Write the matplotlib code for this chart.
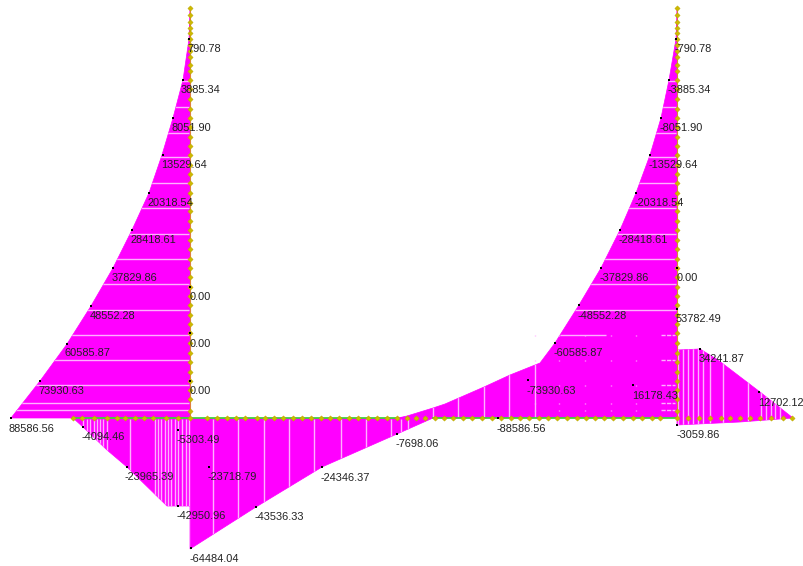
import matplotlib
matplotlib.use("Agg")
import matplotlib.pyplot as plt
from matplotlib.patches import Polygon

plt.rcParams['font.family'] = ['Liberation Sans', 'DejaVu Sans']

MAGENTA = "#ff00ff"
LINE = "#ffb0ff"

# outlines in pixels
left_wall = [(190, 8), (189, 39), (183, 80), (173, 118), (162, 155), (149, 193), (132, 230),
             (113, 268), (91, 306), (67, 344), (40, 381), (11, 418), (190, 418)]
lower_part = [(73, 418), (83, 427), (107, 450), (127, 467), (167, 506), (190, 506), (190, 549),
              (256, 507), (322, 467), (397, 434), (433, 418), (398, 418)]
right_wall = [(398, 418), (407, 416), (433, 408), (445, 404), (484, 387), (510, 375), (540, 363),
              (555, 343), (579, 305), (601, 268), (620, 230), (636, 193), (650, 155), (661, 118),
              (669, 80), (676, 39), (677, 8), (677, 418)]
right_tail = [(677, 350), (700, 349), (718, 360), (760, 392), (793, 418), (740, 422), (677, 425)]

# white divisions of the fill
left_rows = [81, 107, 133, 157, 183, 208, 234, 259, 284, 310, 335, 360, 385, 403, 410]
right_rows = [81, 107, 133, 157, 183, 208, 234, 259, 284, 310]
right_row_335 = [(560, 606)]
dash_rows = [335, 360, 385, 403, 410]
dash_columns = [535, 559, 585, 611, 636]
lower_columns = [83, 87, 90, 94, 97, 100, 103, 107, 130, 155, 158, 161, 165, 168, 171, 175, 178,
                 182, 186, 189, 213, 238, 264, 289, 314, 341, 366, 391, 401, 408]
upper_columns = [433, 458, 484, 509, 535]
tail_columns = [678, 683, 688, 693, 698, 703, 710, 723, 748, 761, 766, 771, 775, 780]

# yellow nodes
wall_nodes = [8, 15, 22, 28, 33, 39, 45, 51, 57, 65, 71, 80, 89, 99, 109, 118, 127, 137, 146, 155,
              165, 174, 183, 193, 203, 211, 221, 230, 240, 249, 259, 268, 277, 287, 296, 305, 315,
              324, 333, 343, 353, 362, 372, 381, 390, 399, 411]
base_nodes = [73, 82, 94, 107, 117, 125, 135, 144, 153, 166, 178, 190, 207, 217, 227, 236, 245, 257,
              265, 274, 283, 293, 302, 311, 321, 330, 339, 349, 358, 368, 377, 387, 397, 407, 416,
              425, 435, 444, 453, 463, 472, 482, 492, 501, 511, 520, 529, 539, 548, 557, 567, 577,
              586, 595, 604, 613, 623, 633, 642, 652, 660, 677, 688, 699, 710, 721, 730, 740, 750,
              760, 771, 783, 792]

# black result points
mark_x = [189, 183, 173, 163, 149, 132, 113, 91, 67, 40, 11, 190, 190, 190, 83, 127, 178, 178, 209,
          256, 191, 322, 397, 498, 676, 669, 661, 650, 636, 620, 601, 579, 555, 528, 677, 677, 633,
          700, 759, 677]
mark_y = [39, 80, 118, 155, 193, 230, 268, 306, 344, 381, 418, 287, 333, 381, 427, 467, 506, 430,
          467, 507, 548, 467, 434, 418, 39, 80, 118, 155, 193, 230, 268, 305, 343, 380, 268, 309,
          385, 349, 392, 425]

# labels
label_text = ["790.78", "3885.34", "8051.90", "13529.64", "20318.54", "28418.61", "37829.86",
              "48552.28", "60585.87", "73930.63", "88586.56", "0.00", "0.00", "0.00",
              "-4094.46", "-23965.39", "-5303.49", "-23718.79", "-42950.96", "-43536.33",
              "-64484.04", "-24346.37", "-7698.06", "-88586.56",
              "-790.78", "-3885.34", "-8051.90", "-13529.64", "-20318.54", "-28418.61",
              "-37829.86", "0.00", "-48552.28", "53782.49", "-60585.87", "34241.87",
              "-73930.63", "16178.43", "12702.12", "-3059.86"]
label_x = [187, 181, 172, 161, 148, 131, 112, 90, 65, 38, 9, 190, 190, 190,
           82, 125, 177, 208, 177, 255, 190, 321, 396, 497,
           675, 668, 660, 649, 635, 619, 600, 677, 578, 676, 554, 699, 527, 632, 758, 677]
label_y = [49, 90, 128, 165, 203, 240, 278, 316, 353, 391, 429, 297, 344, 391,
           437, 477, 440, 477, 516, 517, 559, 478, 444, 429,
           49, 90, 128, 165, 203, 240, 278, 278, 316, 319, 353, 359, 391, 396, 403, 435]

fig = plt.figure(figsize=(8.04, 5.66), dpi=100)
ax = fig.add_axes([0, 0, 1, 1])
ax.set_xlim(0, 804)
ax.set_ylim(566, 0)
ax.axis("off")

patches = {}
for name, outline in [("left", left_wall), ("lower", lower_part), ("right", right_wall), ("tail", right_tail)]:
    patches[name] = Polygon(outline, closed=True, fc=MAGENTA, ec=MAGENTA, lw=0.5, zorder=1)
    ax.add_patch(patches[name])

# division lines, cut off at the outlines
ax.hlines(left_rows, 0, 189, color=LINE, lw=1, zorder=2).set_clip_path(patches["left"])
ax.hlines(right_rows, 480, 676, color=LINE, lw=1, zorder=2).set_clip_path(patches["right"])
for x0, x1 in right_row_335:
    ax.hlines(dash_rows[0], x0, x1, color=LINE, lw=1, zorder=2)
for x in dash_columns:
    ax.vlines([x] * len(dash_rows), [r - 0.5 for r in dash_rows], [r + 0.5 for r in dash_rows],
              color=LINE, lw=1, zorder=2)
ax.hlines(dash_rows, 661, 675, color=LINE, lw=1, linestyles=(0, (3, 1)), zorder=2)
ax.vlines(lower_columns, 419, 560, color=LINE, lw=1, zorder=2).set_clip_path(patches["lower"])
ax.vlines(upper_columns, 340, 417, color=LINE, lw=1, zorder=2).set_clip_path(patches["right"])
ax.vlines(tail_columns, 340, 430, color=LINE, lw=1, zorder=2).set_clip_path(patches["tail"])

# member lines and nodes
ax.plot([73, 398], [418, 418], color="#30e030", lw=1.2, zorder=3)
ax.plot([433, 677], [418, 418], color="#30e030", lw=1.2, zorder=3)
for wall_x in (190, 677):
    ax.plot([wall_x, wall_x], [8, 418], color="#e08040", lw=0.8, zorder=3)
    ax.plot([wall_x] * len(wall_nodes), wall_nodes, ls="none", marker="D", ms=2.7, mfc="#cdb900",
            mec="#b8a400", mew=0.3, zorder=4)
ax.plot(base_nodes, [418] * len(base_nodes), ls="none", marker="D", ms=2.7, mfc="#cdb900",
        mec="#b8a400", mew=0.3, zorder=4)

ax.plot(mark_x, mark_y, ls="none", marker="s", ms=1.5, mew=0, color="black", zorder=5)

for x, y, s in zip(label_x, label_y, label_text):
    ax.text(x, y, s, fontsize=7.9, color="#222222", ha="left", va="center", zorder=6)

fig.savefig("out.png", dpi=100)
